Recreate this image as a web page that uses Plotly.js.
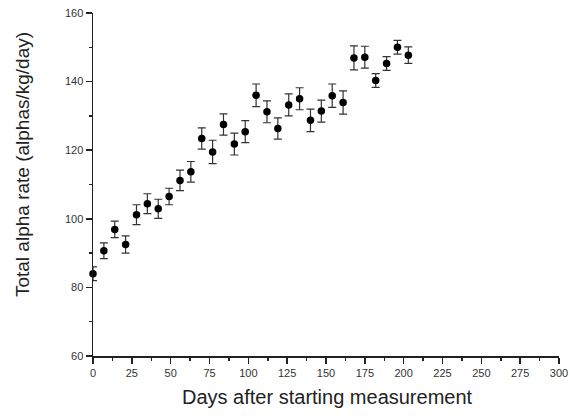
<!DOCTYPE html>
<html>
<head>
<meta charset="utf-8">
<script src="https://cdn.plot.ly/plotly-3.0.1.min.js"></script>
<style>html,body{margin:0;padding:0;background:#fff;}#chart{width:570px;height:420px;}</style>
</head>
<body>
<div id="chart"></div>
<script>
var days = [0,7,14,21,28,35,42,49,56,63,70,77,84,91,98,105,112,119,126,133,140,147,154,161,168,175,182,189,196,203];
var alphaRate = [84.0,90.7,96.9,92.5,101.2,104.4,102.9,106.5,111.2,113.7,123.4,119.5,127.5,121.8,125.4,136.0,131.2,126.3,133.2,135.0,128.7,131.4,135.9,133.9,146.9,147.1,140.3,145.3,150.0,147.7];
var rateErr = [2.0,2.3,2.4,2.5,2.9,2.9,2.8,2.4,3.0,3.0,3.1,3.4,3.1,3.2,3.2,3.3,3.2,3.1,3.2,3.2,3.3,3.2,3.4,3.4,3.5,3.2,2.0,2.0,2.0,2.4];
var xTicks = [0,25,50,75,100,125,150,175,200,225,250,275,300];
var yTicks = [60,80,100,120,140,160];
var xTitle = 'Days after starting measurement';
var yTitle = 'Total alpha rate (alphas/kg/day)';

var trace = {
  x: days, y: alphaRate, type: 'scatter', mode: 'markers',
  marker: {color: '#000', size: 7.5},
  error_y: {type: 'data', array: rateErr, visible: true, color: '#333', thickness: 1.2, width: 4},
  cliponaxis: false, hoverinfo: 'none'
};
var fam = 'Liberation Sans, Arial, sans-serif';
var axisFont = {family: fam, size: 11, color: '#333'};
var layout = {
  width: 570, height: 420,
  margin: {l: 93, r: 11, t: 13, b: 64},
  paper_bgcolor: '#fff', plot_bgcolor: '#fff',
  showlegend: false,
  xaxis: {
    range: [0, 300], tickvals: xTicks, ticktext: xTicks.map(String),
    showgrid: false, zeroline: false, showline: true, linecolor: '#222', linewidth: 1.5,
    ticks: 'outside', ticklen: 6, tickwidth: 1.5, tickcolor: '#222',
    minor: {dtick: 12.5, tick0: 0, ticks: 'outside', ticklen: 3, tickwidth: 1.5, tickcolor: '#222', showgrid: false},
    tickfont: axisFont
  },
  yaxis: {
    range: [60, 160], tickvals: yTicks, ticktext: yTicks.map(String),
    showgrid: false, zeroline: false, showline: true, linecolor: '#222', linewidth: 1.5,
    ticks: 'outside', ticklen: 6, tickwidth: 1.5, tickcolor: '#222',
    minor: {dtick: 10, tick0: 60, ticks: 'outside', ticklen: 3, tickwidth: 1.5, tickcolor: '#222', showgrid: false},
    tickfont: axisFont
  },
  annotations: [
    {text: xTitle, xref: 'paper', yref: 'paper', x: 0.504, y: -0.1195, xanchor: 'center', yanchor: 'middle',
     showarrow: false, font: {family: fam, size: 20, color: '#222'}},
    {text: yTitle, xref: 'paper', yref: 'paper', x: -0.150, y: 0.557, xanchor: 'center', yanchor: 'middle',
     textangle: -90, showarrow: false, font: {family: fam, size: 19, color: '#222'}}
  ]
};
Plotly.newPlot('chart', [trace], layout, {staticPlot: true, displayModeBar: false});
</script>
</body>
</html>
